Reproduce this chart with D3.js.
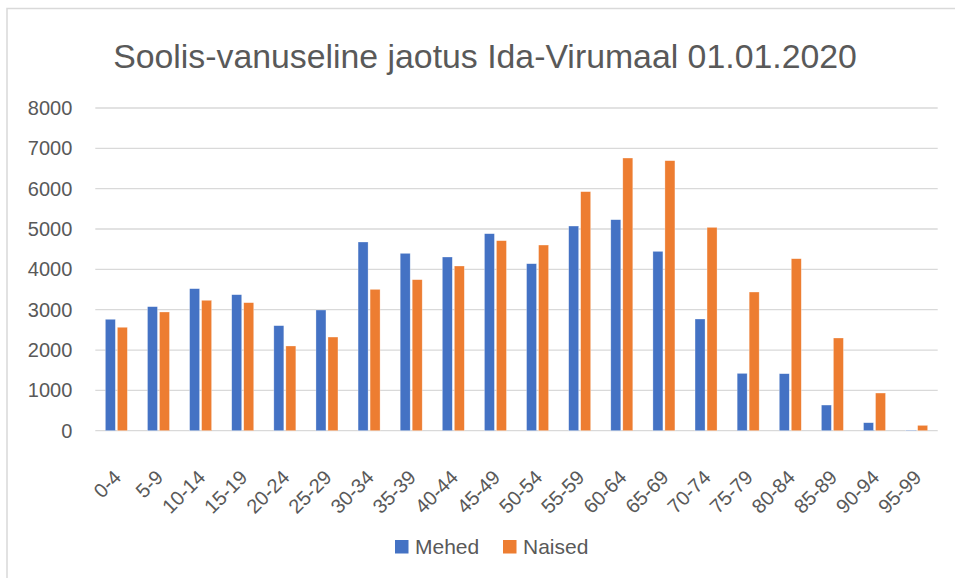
<!DOCTYPE html>
<html>
<head>
<meta charset="utf-8">
<script src="https://cdn.jsdelivr.net/npm/d3@7/dist/d3.min.js"></script>
<style>
  html, body { margin: 0; padding: 0; background: #fff; }
  svg { display: block; }
  text { font-family: "Liberation Sans", Arial, sans-serif; fill: #595959; }
</style>
</head>
<body>
<svg id="chart" width="955" height="578"></svg>
<script>
const title = "Soolis-vanuseline jaotus Ida-Virumaal 01.01.2020";
const categories = ["0-4","5-9","10-14","15-19","20-24","25-29","30-34","35-39","40-44","45-49",
  "50-54","55-59","60-64","65-69","70-74","75-79","80-84","85-89","90-94","95-99"];
const seriesNames = ["Mehed", "Naised"];
const mehed  = [2762, 3075, 3521, 3372, 2604, 2992, 4678, 4397, 4306, 4884,
  4140, 5074, 5231, 4446, 2769, 1421, 1413, 636, 198, 15];
const naised = [2564, 2943, 3233, 3174, 2100, 2322, 3504, 3744, 4083, 4711,
  4603, 5926, 6760, 6694, 5041, 3438, 4264, 2298, 934, 132];
const yTicks = [0, 1000, 2000, 3000, 4000, 5000, 6000, 7000, 8000];
const colors = ["#4472C4", "#ED7D31"];

const svg = d3.select("#chart");

// chart border
svg.append("path")
  .attr("d", "M7,578 V8.5 H955")
  .attr("fill", "none")
  .attr("stroke", "#d9d9d9")
  .attr("stroke-width", 1.5);

// title
const t = svg.append("text")
  .attr("x", 485).attr("y", 68)
  .attr("text-anchor", "middle")
  .style("font-size", "31px")
  .text(title);
const tw = t.node().getComputedTextLength();
t.style("font-size", (31 * 744 / tw).toFixed(2) + "px");

const plotL = 95.3, plotR = 937.7, plotT = 108, plotB = 430.7;

const x0 = d3.scaleBand().domain(categories).range([plotL, plotR]).padding(0);
const x1 = d3.scaleBand().domain(seriesNames).range([0, x0.bandwidth()])
  .paddingInner(0.167).paddingOuter(0.838);
const y = d3.scaleLinear().domain([0, 8000]).range([plotB, plotT]);

// gridlines
svg.append("g").selectAll("line").data(yTicks).join("line")
  .attr("x1", plotL).attr("x2", plotR)
  .attr("y1", d => y(d)).attr("y2", d => y(d))
  .attr("stroke", "#d9d9d9").attr("stroke-width", 1.3);

// y axis labels
const yAxis = d3.axisLeft(y).tickValues(yTicks).tickSize(0).tickPadding(23).tickFormat(d3.format("d"));
const gy = svg.append("g").attr("transform", `translate(${plotL},0)`).call(yAxis);
gy.select(".domain").remove();
gy.selectAll("text").style("font-size", "20px").attr("fill", "#595959")
  .style("font-family", "'Liberation Sans', Arial, sans-serif");

// bars
const data = categories.map((c, i) => ({ cat: c, vals: [
  { s: seriesNames[0], v: mehed[i], c: colors[0] },
  { s: seriesNames[1], v: naised[i], c: colors[1] } ] }));

const groups = svg.append("g").selectAll("g").data(data).join("g")
  .attr("transform", d => `translate(${x0(d.cat)},0)`);
groups.selectAll("rect").data(d => d.vals).join("rect")
  .attr("x", d => x1(d.s))
  .attr("width", x1.bandwidth())
  .attr("y", d => y(d.v))
  .attr("height", d => y(0) - y(d.v))
  .attr("fill", d => d.c)
  .attr("stroke", "#ffffff").attr("stroke-opacity", 0.5).attr("stroke-width", 0.6);

// x axis labels
const xAxis = d3.axisBottom(x0).tickSize(0).tickPadding(0);
const gx = svg.append("g").attr("transform", `translate(0,${plotB})`).call(xAxis);
gx.select(".domain").remove();
gx.selectAll("text")
  .style("font-size", "20px")
  .style("font-family", "'Liberation Sans', Arial, sans-serif")
  .attr("fill", "#595959")
  .attr("text-anchor", "end")
  .attr("dy", null)
  .attr("y", 0)
  .attr("transform", "translate(6,48) rotate(-45)");

// legend
const legend = [
  { name: seriesNames[0], color: colors[0], x: 395 },
  { name: seriesNames[1], color: colors[1], x: 503 }
];
const lg = svg.append("g").selectAll("g").data(legend).join("g")
  .attr("transform", d => `translate(${d.x},540)`);
lg.append("rect").attr("width", 13.5).attr("height", 13.5).attr("fill", d => d.color);
lg.append("text").attr("x", 20).attr("y", 13.5)
  .style("font-size", "21px").text(d => d.name);
</script>
</body>
</html>
